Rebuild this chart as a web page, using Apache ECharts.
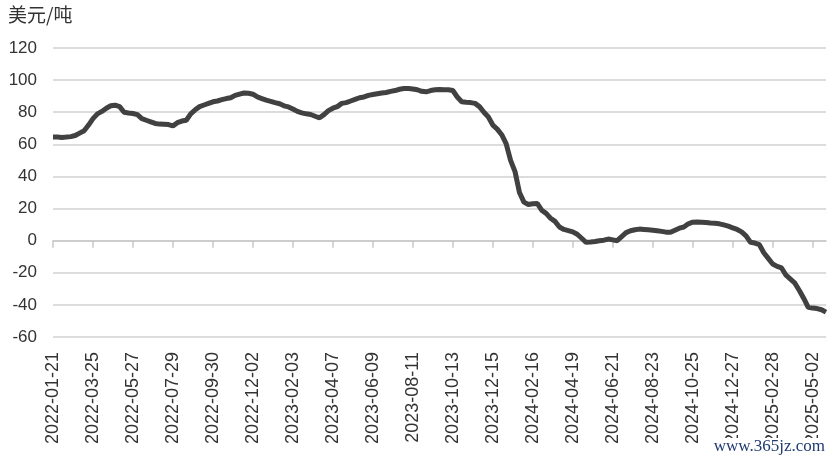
<!DOCTYPE html>
<html>
<head>
<meta charset="utf-8">
<script src="https://cdn.jsdelivr.net/npm/echarts@6/dist/echarts.min.js"></script>
<style>
  html, body { margin: 0; padding: 0; background: #fff; }
  #chart { width: 834px; height: 461px; }
</style>
</head>
<body>
<div id="chart"></div>
<script>
// weekly dates starting 2022-01-21 (one label every 9 weeks)
var startDate = '2022-01-21'
var pointCount = 175

// spread, USD/t
var spread = [
  64.5, 64.5, 64.3, 64.5, 64.8, 65.5, 67, 68.5, 72, 76,
  79, 80.5, 82.5, 84, 84.4, 83.5, 80, 79.5, 79.2, 78.5,
  76, 75, 74, 73, 72.6, 72.5, 72.3, 71.5, 73.5, 74.5,
  75, 79, 81.5, 83.5, 84.5, 85.5, 86.5, 87, 87.8, 88.5,
  89, 90.5, 91.3, 92, 91.8, 91.2, 89.5, 88.5, 87.5, 86.8,
  86, 85.3, 84, 83.3, 82, 80.5, 79.6, 79, 78.6, 77.5,
  76.5, 78.5, 81, 82.5, 83.5, 85.5, 86, 87, 88, 89,
  89.5, 90.5, 91, 91.5, 92, 92.3, 93, 93.5, 94.3, 94.8,
  94.8, 94.5, 94, 93, 92.7, 93.5, 94, 94.2, 94, 94,
  93.5, 89.5, 86.5, 86.2, 86, 85.5, 83.5, 80, 77, 72,
  69.5, 66, 60.5, 50, 43, 30, 24, 22.5, 23, 23.2,
  19, 17, 14, 12, 8.5, 7, 6.3, 5.5, 4, 1.5,
  -1, -0.8, -0.5, 0, 0.3, 1, 0.5, 0, 2.5, 5,
  6.2, 6.8, 7.2, 7, 6.8, 6.5, 6.2, 5.8, 5.3, 5.2,
  6.5, 7.8, 8.5, 10.5, 11.5, 11.6, 11.5, 11.3, 11, 10.8,
  10.5, 9.8, 9, 8, 7, 5.5, 3, -1, -1.5, -2.5,
  -7.5, -11, -14.5, -16, -17, -21.5, -24, -26.5, -31, -36,
  -41.5, -42, -42.3, -43, -44.5
]

var dates = []
var d0 = new Date(startDate + 'T00:00:00Z')
for (var i = 0; i < pointCount; i++) {
  var d = new Date(d0.getTime() + i * 7 * 86400000)
  dates.push(d.toISOString().slice(0, 10))
}

var chart = echarts.init(document.getElementById('chart'))
var option = {
  animation: false,
  grid: { left: 53, right: 8, top: 48, bottom: 124, containLabel: false },
  graphic: [
    {
      type: 'text', left: 8, top: 5,
      style: { text: '美元/吨', font: '19px "Noto Sans CJK SC"', fill: '#333' }
    },
    {
      type: 'text', right: 7, bottom: 6, z: 100,
      style: {
        text: 'www.365jz.com', font: '17px "Liberation Serif"', fill: '#1f3a70',
        backgroundColor: '#fff', padding: [0, 2, 0, 2]
      }
    }
  ],
  xAxis: [
    {
      type: 'category', data: dates, boundaryGap: false,
      axisLine: { onZero: true, lineStyle: { color: '#c8c8c8', width: 1.5 } },
      axisTick: { show: true, interval: 8, length: 7, lineStyle: { color: '#c8c8c8', width: 1.5 } },
      axisLabel: { show: false },
      splitLine: { show: false }
    },
    {
      type: 'category', data: dates, boundaryGap: false, position: 'bottom',
      axisLine: { show: false, onZero: false },
      axisTick: { show: false },
      axisLabel: {
        interval: 8, rotate: 90, margin: 15, color: '#333',
        fontSize: 18, fontFamily: 'Liberation Sans'
      }
    }
  ],
  yAxis: {
    type: 'value', min: -60, max: 120, interval: 20,
    axisLine: { show: false },
    axisTick: { show: false },
    axisLabel: { color: '#333', fontSize: 17, fontFamily: 'Liberation Sans', margin: 16 },
    splitLine: { lineStyle: { color: '#d0d0d0', width: 1.5 } }
  },
  series: [
    {
      type: 'line', data: spread, xAxisIndex: 0,
      showSymbol: false, smooth: false,
      lineStyle: { color: '#414141', width: 5 },
      z: 5
    }
  ]
}
chart.setOption(option)
</script>
</body>
</html>
